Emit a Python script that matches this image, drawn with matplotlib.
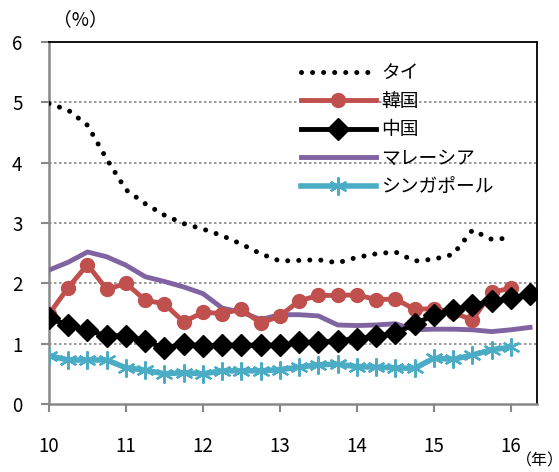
import matplotlib
matplotlib.use("Agg")
import matplotlib.pyplot as plt
import numpy as np

plt.rcParams['font.family'] = ['Noto Sans CJK JP', 'DejaVu Sans']

# quarterly series, starting 2010 Q1
thai = [4.98, 4.87, 4.62, 4.06, 3.55, 3.32, 3.13, 2.99, 2.90, 2.79, 2.65, 2.49, 2.37,
        2.38, 2.39, 2.34, 2.43, 2.49, 2.52, 2.37, 2.40, 2.48, 2.88, 2.73, 2.75]
korea = [1.49, 1.93, 2.31, 1.90, 2.00, 1.72, 1.66, 1.36, 1.52, 1.50, 1.57, 1.34, 1.46,
         1.71, 1.80, 1.80, 1.81, 1.73, 1.74, 1.57, 1.58, 1.52, 1.39, 1.85, 1.92]
china = [1.42, 1.31, 1.22, 1.13, 1.13, 1.05, 0.92, 1.00, 0.96, 0.98, 0.97, 0.98, 0.97,
         1.02, 1.02, 1.05, 1.08, 1.12, 1.17, 1.33, 1.47, 1.56, 1.64, 1.70, 1.75, 1.82]
malaysia = [2.22, 2.35, 2.52, 2.44, 2.30, 2.11, 2.03, 1.94, 1.83, 1.59, 1.52, 1.40, 1.48,
            1.48, 1.46, 1.31, 1.30, 1.31, 1.33, 1.23, 1.24, 1.24, 1.23, 1.20, 1.23, 1.27]
singapore = [0.80, 0.73, 0.73, 0.73, 0.60, 0.56, 0.50, 0.52, 0.50, 0.55, 0.55, 0.55, 0.57,
             0.61, 0.65, 0.66, 0.62, 0.61, 0.60, 0.59, 0.76, 0.74, 0.81, 0.90, 0.94]

def qx(vals):
    return 10 + np.arange(len(vals)) / 4.0

fig = plt.figure(figsize=(5.59, 4.72), dpi=100)
ax = fig.add_axes([49/559, 1 - 404/472, 488/559, 362/472])

for yv in [1, 2, 3, 4, 5]:
    ax.axhline(yv, color='#888888', lw=1.2, ls=(0, (1.5, 1.5)), zorder=0)

ax.plot(qx(thai), thai, color='black', lw=3.6, ls=(0, (0.01, 2.2)),
        dash_capstyle='round', label='タイ', zorder=3)
ax.plot(qx(korea), korea, color='#C0504D', lw=3.5, marker='o', ms=10,
        mec='#C0504D', mfc='#C0504D', label='韓国', zorder=4)
ax.plot(qx(china), china, color='black', lw=3.5, marker='D', ms=11,
        label='中国', zorder=5)
ax.plot(qx(malaysia), malaysia, color='#8064A2', lw=3.5, label='マレーシア', zorder=3)
ax.plot(qx(singapore), singapore, color='#4BACC6', lw=4, marker=(6, 2, 0), ms=13,
        mew=1.6, mec='#4BACC6', label='シンガポール', zorder=4)

ax.set_xlim(10, 16.34)
ax.set_ylim(0, 6)
ax.set_xticks(range(10, 17))
ax.set_xticklabels([str(v) for v in range(10, 17)])
ax.set_yticks(range(0, 7))

for s in ['left', 'bottom']:
    ax.spines[s].set_color('#888888')
    ax.spines[s].set_linewidth(1.8)
for s in ['top', 'right']:
    ax.spines[s].set_color('black')
    ax.spines[s].set_linewidth(1.3)

ax.tick_params(axis='x', direction='out', length=6, width=1.5, color='#888888',
               labelsize=13.5, pad=17)
ax.tick_params(axis='y', direction='out', length=6, width=1.5, color='#888888',
               labelsize=13.5, pad=13)

leg = ax.legend(loc='upper left', bbox_to_anchor=(0.5, 0.965), frameon=False,
                fontsize=13.5, handlelength=4, handletextpad=0.3, labelspacing=0.4,
                borderaxespad=0)

fig.text(80/559, 1 - 20/472, '（%）', ha='center', va='center', fontsize=13.5)
fig.text(540/559, 1 - 461/472, '（年）', ha='center', va='center', fontsize=11.5)

fig.savefig('out.png', dpi=100)
